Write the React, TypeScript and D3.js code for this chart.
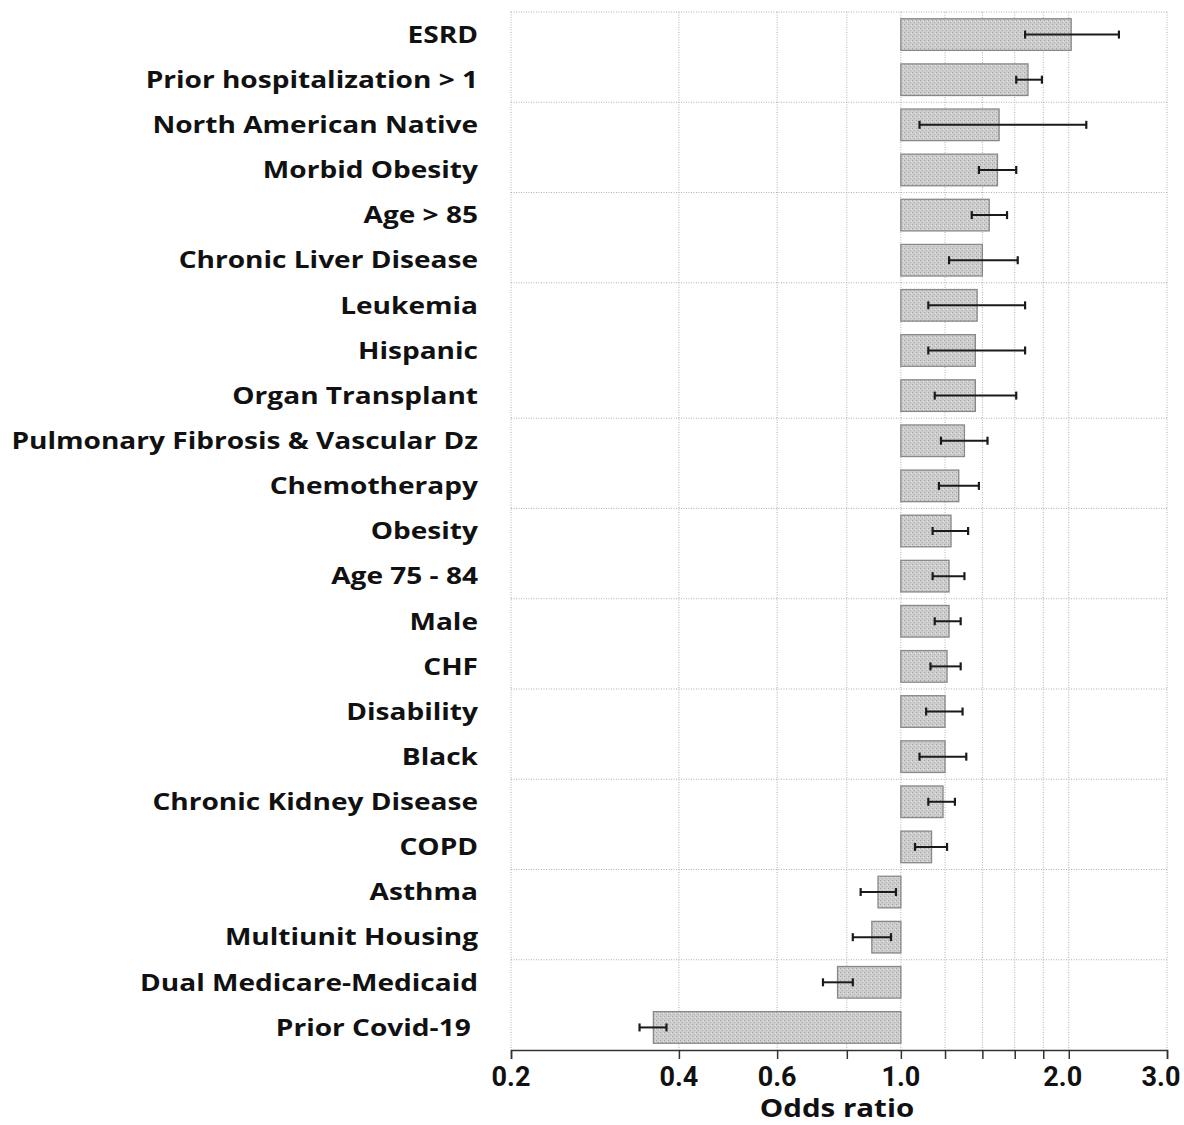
import { useEffect, useRef } from 'react'
import * as d3 from 'd3'

// risk factors, top to bottom
const factors = [
  'ESRD',
  'Prior hospitalization > 1',
  'North American Native',
  'Morbid Obesity',
  'Age > 85',
  'Chronic Liver Disease',
  'Leukemia',
  'Hispanic',
  'Organ Transplant',
  'Pulmonary Fibrosis & Vascular Dz',
  'Chemotherapy',
  'Obesity',
  'Age 75 - 84',
  'Male',
  'CHF',
  'Disability',
  'Black',
  'Chronic Kidney Disease',
  'COPD',
  'Asthma',
  'Multiunit Housing',
  'Dual Medicare-Medicaid',
  'Prior Covid-19 ',
]
const oddsRatio = [2.02, 1.69, 1.5, 1.49, 1.44, 1.4, 1.37, 1.36, 1.36, 1.3, 1.27, 1.23, 1.22, 1.22, 1.21, 1.2, 1.2, 1.19, 1.135, 0.91, 0.887, 0.77, 0.36]
const ciLow = [1.67, 1.61, 1.08, 1.38, 1.34, 1.22, 1.12, 1.12, 1.15, 1.18, 1.17, 1.14, 1.14, 1.15, 1.13, 1.11, 1.08, 1.12, 1.06, 0.847, 0.82, 0.725, 0.34]
const ciHigh = [2.46, 1.79, 2.15, 1.61, 1.55, 1.62, 1.67, 1.67, 1.61, 1.43, 1.38, 1.32, 1.3, 1.28, 1.28, 1.29, 1.31, 1.25, 1.21, 0.98, 0.96, 0.82, 0.38]

const gridTicks = [0.2, 0.4, 0.6, 0.8, 1.0, 1.2, 1.4, 1.6, 1.8, 2.0, 3.0]
const labelTicks = [0.2, 0.4, 0.6, 1.0, 2.0, 3.0]
// row boundaries that carry a horizontal grid line
const hGridRows = [0, 2, 4, 6, 9, 11, 13, 15, 17, 19, 21]

export default function App() {
  const ref = useRef<SVGSVGElement | null>(null)
  useEffect(() => {
    const width = 1184
    const height = 1125
    const svg = d3.select(ref.current).attr('width', width).attr('height', height)
    svg.selectAll('*').remove()

    const x = d3.scaleLog().domain([0.2, 3.0]).range([511, 1167])
    const y = d3.scaleBand<string>().domain(factors).range([12, 1050]).padding(0)
    const step = y.step()

    const defs = svg.append('defs')
    const pat = defs
      .append('pattern')
      .attr('id', 'stip')
      .attr('width', 4)
      .attr('height', 4)
      .attr('patternUnits', 'userSpaceOnUse')
    pat.append('rect').attr('width', 4).attr('height', 4).attr('fill', '#cdcdcd')
    pat.append('rect').attr('x', 0).attr('y', 0).attr('width', 1).attr('height', 1).attr('fill', '#a4a4a4')
    pat.append('rect').attr('x', 2).attr('y', 2).attr('width', 1).attr('height', 1).attr('fill', '#b0b0b0')
    pat.append('rect').attr('x', 3).attr('y', 1).attr('width', 1).attr('height', 1).attr('fill', '#e8e8e8')

    const grid = svg.append('g')
    grid
      .selectAll('line.v')
      .data(gridTicks)
      .enter()
      .append('line')
      .attr('x1', (d) => x(d))
      .attr('x2', (d) => x(d))
      .attr('y1', 12)
      .attr('y2', 1050)
      .attr('stroke', '#b0b0b0')
      .attr('stroke-width', 1)
      .attr('stroke-dasharray', '1,1.5')
    grid
      .selectAll('line.h')
      .data(hGridRows)
      .enter()
      .append('line')
      .attr('x1', x(0.2))
      .attr('x2', x(3.0))
      .attr('y1', (d) => 12 + d * step)
      .attr('y2', (d) => 12 + d * step)
      .attr('stroke', '#b0b0b0')
      .attr('stroke-width', 1)
      .attr('stroke-dasharray', '1,1.5')

    const rows = factors.map((f, i) => ({ f, or: oddsRatio[i], lo: ciLow[i], hi: ciHigh[i] }))

    svg
      .append('g')
      .selectAll('rect')
      .data(rows)
      .enter()
      .append('rect')
      .attr('x', (d) => Math.min(x(1), x(d.or)))
      .attr('width', (d) => Math.abs(x(d.or) - x(1)))
      .attr('y', (d) => (y(d.f) ?? 0) + step * 0.15)
      .attr('height', step * 0.7)
      .attr('fill', 'url(#stip)')
      .attr('stroke', '#888')
      .attr('stroke-width', 1.3)

    const eb = svg.append('g').attr('stroke', '#1a1a1a').attr('stroke-width', 2)
    rows.forEach((d) => {
      const cy = (y(d.f) ?? 0) + step / 2
      eb.append('line').attr('x1', x(d.lo)).attr('x2', x(d.hi)).attr('y1', cy).attr('y2', cy)
      eb.append('line').attr('x1', x(d.lo)).attr('x2', x(d.lo)).attr('y1', cy - 4).attr('y2', cy + 4).attr('stroke-width', 2.2)
      eb.append('line').attr('x1', x(d.hi)).attr('x2', x(d.hi)).attr('y1', cy - 4).attr('y2', cy + 4).attr('stroke-width', 2.2)
    })

    // category labels: wide bold face, stretched horizontally to match the original
    const lab = svg.append('g').attr('transform', 'translate(478,0) scale(1.22,1)')
    lab
      .selectAll('text')
      .data(factors)
      .enter()
      .append('text')
      .attr('x', 0)
      .attr('y', (d) => (y(d) ?? 0) + step / 2)
      .attr('dy', '0.36em')
      .attr('text-anchor', 'end')
      .attr('font-family', '"Open Sans", sans-serif')
      .attr('font-weight', 700)
      .attr('font-size', 23)
      .attr('fill', '#111')
      .style('white-space', 'pre')
      .text((d) => d)

    const axis = d3
      .axisBottom(x)
      .tickValues(gridTicks)
      .tickSize(9)
      .tickFormat(() => '')
    const ax = svg.append('g').attr('transform', 'translate(0,1050)').call(axis as any)
    ax.select('.domain').attr('stroke', '#333').attr('stroke-width', 1.5)
    ax.selectAll('.tick line').attr('stroke', '#333').attr('stroke-width', 1.5)

    svg
      .append('g')
      .selectAll('text')
      .data(labelTicks)
      .enter()
      .append('text')
      .attr('x', (d) => x(d))
      .attr('dx', (d) => (d >= 2 ? -6 : 0))
      .attr('y', 1086)
      .attr('text-anchor', 'middle')
      .attr('font-family', 'Roboto, sans-serif')
      .attr('font-weight', 700)
      .attr('font-size', 27)
      .attr('fill', '#111')
      .text((d) => d.toFixed(1))

    svg
      .append('g')
      .attr('transform', 'translate(837,0) scale(1.18,1)')
      .append('text')
      .attr('x', 0)
      .attr('y', 1117)
      .attr('text-anchor', 'middle')
      .attr('font-family', '"Open Sans", sans-serif')
      .attr('font-weight', 700)
      .attr('font-size', 25)
      .attr('fill', '#111')
      .text('Odds ratio')
  }, [])
  return <svg ref={ref} style={{ position: 'absolute', left: 0, top: 0, background: '#fff' }} />
}
